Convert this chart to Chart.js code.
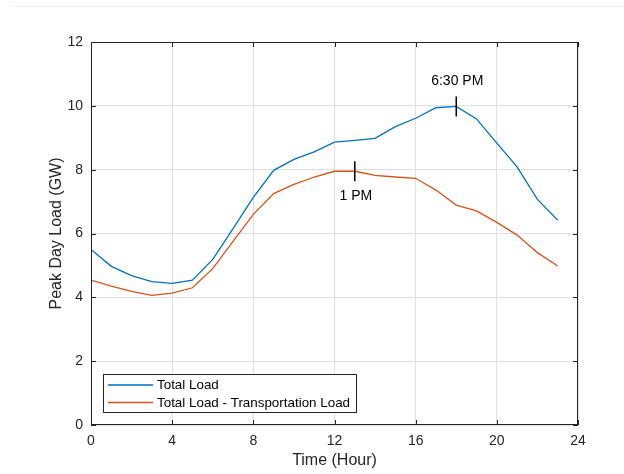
<!DOCTYPE html>
<html>
<head>
<meta charset="utf-8">
<script src="https://cdn.jsdelivr.net/npm/chart.js@4.4.0/dist/chart.umd.min.js"></script>
<style>
  html, body { margin: 0; padding: 0; background: #fff; }
  canvas { display: block; }
</style>
</head>
<body>
<canvas id="loadChart" width="624" height="474"></canvas>
<script>
const hours = [0, 1, 2, 3, 4, 5, 6, 7, 8, 9, 10, 11, 12, 13, 14, 15, 16, 17, 18, 19, 20, 21, 22, 23];
const totalLoad = [5.50, 4.97, 4.68, 4.49, 4.44, 4.54, 5.19, 6.15, 7.13, 7.98, 8.32, 8.56,
                   8.86, 8.92, 8.98, 9.35, 9.61, 9.94, 9.98, 9.59, 8.83, 8.09, 7.07, 6.42];
const netLoad = [4.54, 4.35, 4.19, 4.06, 4.13, 4.30, 4.90, 5.75, 6.60, 7.25, 7.54, 7.77,
                 7.95, 7.95, 7.82, 7.77, 7.73, 7.36, 6.89, 6.71, 6.35, 5.95, 5.40, 4.98];
const xTicks = [0, 4, 8, 12, 16, 20, 24];
const yTicks = [0, 2, 4, 6, 8, 10, 12];
const seriesNames = ['Total Load', 'Total Load - Transportation Load'];

// peak markers: hour, load, text, text offset direction (-1 above, 1 below)
const markHours = [13, 18];
const markLoads = [7.95, 9.98];
const markText = ['1 PM', '6:30 PM'];
const markSide = [1, -1];

const FONT = 'Arial, "Liberation Sans", Helvetica, sans-serif';
const INK = '#262626';

const frame = {
  id: 'frame',
  afterDraw(chart) {
    const { ctx, chartArea: a, scales: { x, y } } = chart;
    ctx.save();

    // faint strip at the very top of the figure
    ctx.strokeStyle = '#f2f2f2';
    ctx.lineWidth = 1;
    ctx.beginPath();
    ctx.moveTo(10, 6.5); ctx.lineTo(624, 6.5);
    ctx.stroke();

    // axes box
    ctx.strokeStyle = INK;
    ctx.lineWidth = 1;
    ctx.strokeRect(Math.round(a.left) + 0.5, Math.round(a.top) + 0.5,
                   Math.round(a.width) - 1, Math.round(a.height) - 1);

    // inward ticks on all four sides
    const tl = 5;
    ctx.beginPath();
    xTicks.forEach(v => {
      const px = Math.round(x.getPixelForValue(v)) + 0.5;
      ctx.moveTo(px, a.bottom); ctx.lineTo(px, a.bottom - tl);
      ctx.moveTo(px, a.top); ctx.lineTo(px, a.top + tl);
    });
    yTicks.forEach(v => {
      const py = Math.round(y.getPixelForValue(v)) + 0.5;
      ctx.moveTo(a.left, py); ctx.lineTo(a.left + tl, py);
      ctx.moveTo(a.right, py); ctx.lineTo(a.right - tl, py);
    });
    ctx.stroke();

    // peak markers and their captions
    ctx.strokeStyle = '#000';
    ctx.lineWidth = 1.5;
    ctx.fillStyle = '#000';
    ctx.font = '14px ' + FONT;
    ctx.textAlign = 'center';
    ctx.textBaseline = 'middle';
    markHours.forEach((h, i) => {
      const px = x.getPixelForValue(h);
      const py = y.getPixelForValue(markLoads[i]);
      ctx.beginPath();
      ctx.moveTo(px, py - 10); ctx.lineTo(px, py + 10);
      ctx.stroke();
      ctx.fillText(markText[i], px + 1, py + markSide[i] * 25);
    });

    // legend in the lower left corner
    const lx = 103.5, ly = 374.5, lw = 253, lh = 38;
    ctx.fillStyle = '#fff';
    ctx.fillRect(lx, ly, lw, lh);
    ctx.strokeStyle = INK;
    ctx.lineWidth = 1;
    ctx.strokeRect(lx, ly, lw, lh);
    ctx.font = '13.4px ' + FONT;
    ctx.textAlign = 'left';
    ctx.fillStyle = '#000';
    chart.data.datasets.forEach((ds, i) => {
      const rowY = 385 + i * 17.5;
      ctx.strokeStyle = ds.borderColor;
      ctx.lineWidth = 1.3;
      ctx.beginPath();
      ctx.moveTo(108, rowY); ctx.lineTo(153, rowY);
      ctx.stroke();
      ctx.fillText(ds.label, 157, rowY + 0.5);
    });

    ctx.restore();
  }
};

new Chart(document.getElementById('loadChart'), {
  type: 'line',
  data: {
    labels: hours,
    datasets: [
      {
        label: seriesNames[0],
        data: hours.map((h, i) => ({ x: h, y: totalLoad[i] })),
        borderColor: '#0072BD',
        borderWidth: 1.3,
        pointRadius: 0,
        tension: 0,
        fill: false
      },
      {
        label: seriesNames[1],
        data: hours.map((h, i) => ({ x: h, y: netLoad[i] })),
        borderColor: '#D95319',
        borderWidth: 1.3,
        pointRadius: 0,
        tension: 0,
        fill: false
      }
    ]
  },
  options: {
    responsive: false,
    animation: false,
    events: [],
    layout: { padding: { top: 42, right: 46, left: 0, bottom: 0 } },
    plugins: {
      legend: { display: false },
      tooltip: { enabled: false }
    },
    scales: {
      x: {
        type: 'linear',
        min: 0,
        max: 24,
        afterBuildTicks: s => { s.ticks = xTicks.map(v => ({ value: v })); },
        afterFit: s => { s.height = 49; },
        grid: { color: '#e0e0e0', drawTicks: false },
        border: { display: false },
        ticks: {
          color: INK,
          padding: 8,
          maxRotation: 0,
          font: { family: FONT, size: 14 }
        },
        title: {
          display: true,
          text: 'Time (Hour)',
          color: INK,
          padding: { top: 0, bottom: 4 },
          font: { family: FONT, size: 16 }
        }
      },
      y: {
        min: 0,
        max: 12,
        afterBuildTicks: s => { s.ticks = yTicks.map(v => ({ value: v })); },
        afterFit: s => { s.width = 91; },
        grid: { color: '#e0e0e0', drawTicks: false },
        border: { display: false },
        ticks: {
          color: INK,
          padding: 8,
          font: { family: FONT, size: 14 }
        },
        title: {
          display: true,
          text: 'Peak Day Load (GW)',
          color: INK,
          padding: { top: 47, bottom: 0 },
          font: { family: FONT, size: 16 }
        }
      }
    }
  },
  plugins: [frame]
});
</script>
</body>
</html>
